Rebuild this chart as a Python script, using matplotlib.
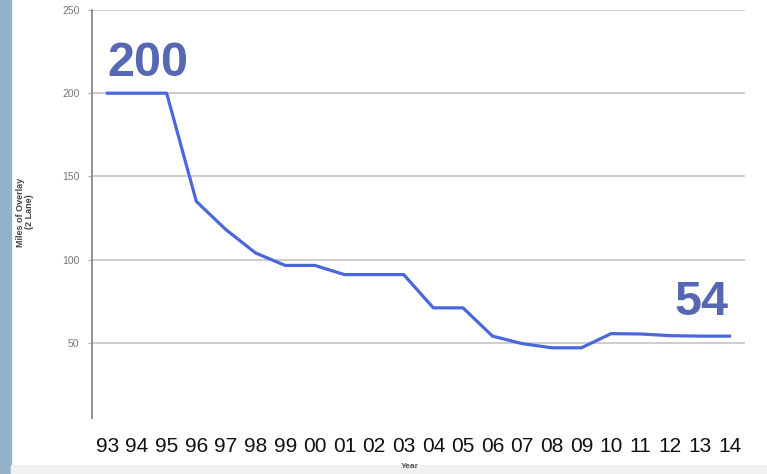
import matplotlib.pyplot as plt
from matplotlib.patches import Rectangle

years = ["93", "94", "95", "96", "97", "98", "99", "00", "01", "02", "03",
         "04", "05", "06", "07", "08", "09", "10", "11", "12", "13", "14"]
miles = [200, 200, 200, 135, 118, 104, 96.5, 96.5, 91, 91, 91,
         71, 71, 54, 49.5, 47, 47, 55.5, 55.3, 54.3, 54, 54]
y_ticks = [50, 100, 150, 200, 250]

fig = plt.figure(figsize=(7.67, 4.74), dpi=100)
fig.patch.set_facecolor("white")

# blue strip on the left edge and grey band at the bottom
fig.patches.append(Rectangle((0, 0), 11 / 767, 1, transform=fig.transFigure,
                             color="#93b1c9", zorder=0))
fig.patches.append(Rectangle((11 / 767, 0), 1, 9 / 474, transform=fig.transFigure,
                             color="#f1f1f1", zorder=0))

ax = fig.add_axes([92 / 767, 1 - 426 / 474, (745 - 92) / 767, (426 - 10) / 474])
x = list(range(len(years)))
ax.plot(x, miles, color="#4a68dc", lw=2.3, solid_joinstyle="round", zorder=3)

ax.set_xlim(-0.52, len(years) - 0.48)
ax.set_ylim(0, 250)
ax.set_yticks(y_ticks)
ax.set_yticklabels([str(t) for t in y_ticks], fontsize=7.5, color="#777777",
                   family="Liberation Sans")
ax.tick_params(axis="y", length=3, color="#aaaaaa", pad=6)
ax.set_xticks([])
ax.grid(axis="y", color="#c9c9c9", lw=1.3)
ax.set_axisbelow(True)
for s in ["top", "right", "bottom"]:
    ax.spines[s].set_visible(False)
ax.spines["left"].set_color("#8a8a8a")
ax.spines["left"].set_linewidth(1.3)
ax.spines["left"].set_bounds(5, 250)

# year labels in a white band below the plot
for i, yr in enumerate(years):
    ax.annotate(yr, (i, 0), xytext=(0, -15), textcoords="offset points",
                ha="center", va="center", fontsize=15, family="Liberation Sans",
                color="#111111", annotation_clip=False)

fig.text(410 / 767, 1 - 467 / 474, "Year", ha="center", va="center",
         fontsize=6, fontweight="bold", color="#555555", family="Liberation Sans")
fig.text(25 / 767, 1 - 212 / 474, "Miles of Overlay\n(2 Lane)", ha="center",
         va="center", rotation=90, fontsize=6.5, fontweight="bold", color="#444444",
         family="Liberation Sans", linespacing=1.1)

# highlighted start and end values
lab = dict(fontsize=35, fontweight="bold", color="#5667b3", family="Liberation Sans",
           ha="center", va="center", zorder=5,
           bbox=dict(facecolor="white", edgecolor="none", pad=1))
ax.annotate(str(miles[0]), (0, miles[0]), xytext=(29, 21.5), textcoords="offset points", **lab)
ax.annotate(str(int(miles[-1])), (len(years) - 1, miles[-1]), xytext=(-20, 24),
            textcoords="offset points", **lab)

fig.savefig("out.png", dpi=100)
